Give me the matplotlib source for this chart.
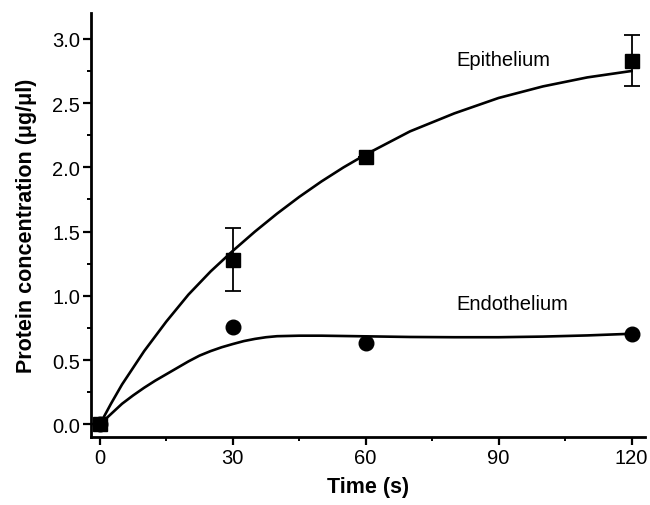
import matplotlib
matplotlib.use("Agg")
import matplotlib.pyplot as plt
from matplotlib.ticker import MultipleLocator

plt.rcParams["font.family"] = ["Liberation Sans", "DejaVu Sans"]

# measured points
time_pts = [0, 30, 60, 120]
epi_mean = [0.0, 1.28, 2.08, 2.83]
epi_err = [0.0, 0.245, 0.0, 0.20]
endo_mean = [0.0, 0.76, 0.63, 0.70]

# fitted curves
epi_t = [0, 2.5, 5, 10, 15, 20, 25, 30, 35, 40, 45, 50, 55, 60, 70, 80, 90, 100, 110, 120]
epi_curve = [0.0, 0.16, 0.31, 0.57, 0.80, 1.01, 1.19, 1.35, 1.50, 1.64, 1.77, 1.89, 2.00, 2.10,
             2.28, 2.42, 2.54, 2.63, 2.70, 2.75]
endo_t = [0, 2.5, 5, 7.5, 10, 12.5, 15, 17.5, 20, 22.5, 25, 27.5, 30, 32.5, 35, 37.5, 40,
          45, 50, 60, 70, 80, 90, 100, 110, 120]
endo_curve = [0.0, 0.08, 0.16, 0.225, 0.285, 0.34, 0.39, 0.44, 0.49, 0.535, 0.57, 0.60,
              0.625, 0.648, 0.665, 0.678, 0.686, 0.69, 0.69, 0.685, 0.68, 0.678, 0.678,
              0.683, 0.692, 0.705]

fig = plt.figure(figsize=(6.5, 5.06), dpi=100)
ax = fig.add_axes([0.14, 0.134, 0.852, 0.838])

ax.plot(epi_t, epi_curve, color="black", lw=1.9)
ax.plot(endo_t, endo_curve, color="black", lw=1.9)
ax.errorbar(time_pts, epi_mean, yerr=epi_err, fmt="s", color="black", ms=9.5,
            capsize=6, elinewidth=1.3, capthick=1.3)
ax.plot(time_pts, endo_mean, "o", color="black", ms=10.5)

ax.text(91, 2.84, "Epithelium", ha="center", va="center", fontsize=14.5)
ax.text(93, 0.94, "Endothelium", ha="center", va="center", fontsize=14.5)

ax.set_xlim(-2, 123)
ax.set_ylim(-0.1, 3.2)
ax.xaxis.set_major_locator(MultipleLocator(30))
ax.xaxis.set_minor_locator(MultipleLocator(15))
ax.yaxis.set_major_locator(MultipleLocator(0.5))
ax.yaxis.set_minor_locator(MultipleLocator(0.25))
ax.yaxis.set_major_formatter(plt.FormatStrFormatter("%.1f"))

for s in ["top", "right"]:
    ax.spines[s].set_visible(False)
for s in ["left", "bottom"]:
    ax.spines[s].set_linewidth(2)
ax.tick_params(which="major", direction="out", length=6, width=1.6, labelsize=14.5, pad=2)
ax.tick_params(which="minor", direction="out", length=3, width=1.4)

ax.set_xlabel("Time (s)", fontsize=15.5, fontweight="bold", labelpad=6)
ax.set_ylabel("Protein concentration (μg/μl)", fontsize=15.5, fontweight="bold", labelpad=11)

fig.savefig("out.png", dpi=100)
